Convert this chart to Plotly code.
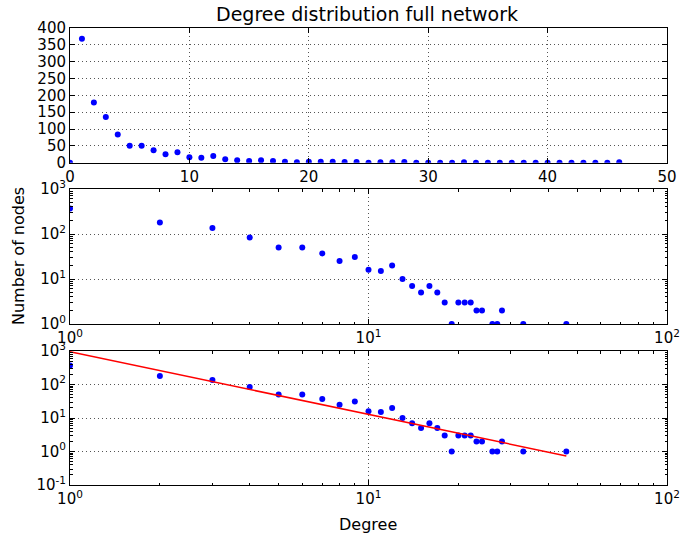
import plotly.graph_objects as go

degrees = list(range(0, 47))
counts = [0, 368, 179, 136, 84, 50, 50, 37, 25, 31,
          16, 15, 20, 10, 7, 5, 7, 5, 3, 1,
          3, 3, 3, 2, 2, 0, 1, 1, 2, 0,
          0, 0, 0, 1, 0, 0, 0, 0, 0, 0,
          0, 0, 0, 0, 0, 0, 1]

# power-law fit parameters: y = fit_a * x ** fit_b
fit_a = 950.0
fit_b = -1.87
fit_x = [1, 46]
fit_y = [fit_a * x ** fit_b for x in fit_x]

lin_xticks = [0, 10, 20, 30, 40, 50]
lin_yticks = [0, 50, 100, 150, 200, 250, 300, 350, 400]
log_xticks = [1, 10, 100]
log_xtext = ["10<sup>0</sup>", "10<sup>1</sup>", "10<sup>2</sup>"]
mid_yticks = [1, 10, 100, 1000]
mid_ytext = ["10<sup>0</sup>", "10<sup>1</sup>", "10<sup>2</sup>", "10<sup>3</sup>"]
bot_yticks = [0.1, 1, 10, 100, 1000]
bot_ytext = ["10<sup>-1</sup>", "10<sup>0</sup>", "10<sup>1</sup>", "10<sup>2</sup>", "10<sup>3</sup>"]

FONT = "DejaVu Sans"
BLUE = "#0000ff"

minor_x = [m * 10 ** e for e in range(0, 2) for m in range(2, 10)]
minor_y_mid = [m * 10 ** e for e in range(0, 3) for m in range(2, 10)]
minor_y_bot = [m * 10 ** e for e in range(-1, 3) for m in range(2, 10)]

fig = go.Figure()

mk = dict(color=BLUE, size=6, line=dict(width=0))
fig.add_trace(go.Scatter(x=degrees, y=counts, mode="markers", marker=mk,
                         xaxis="x", yaxis="y", showlegend=False))
fig.add_trace(go.Scatter(x=degrees, y=counts, mode="markers", marker=mk,
                         xaxis="x2", yaxis="y2", showlegend=False))
fig.add_trace(go.Scatter(x=degrees, y=counts, mode="markers", marker=mk,
                         xaxis="x3", yaxis="y3", showlegend=False))
fig.add_trace(go.Scatter(x=fit_x, y=fit_y, mode="lines",
                         line=dict(color="#ff0000", width=1.5),
                         xaxis="x3", yaxis="y3", showlegend=False))

common = dict(showline=True, linecolor="black", linewidth=1, mirror="ticks",
              ticks="inside", ticklen=5, tickcolor="black", tickwidth=1,
              showgrid=True, gridcolor="#555555", griddash="1px,3px", gridwidth=1,
              zeroline=False, automargin=False,
              tickfont=dict(family=FONT, size=15, color="black"))

def minor(vals):
    return dict(ticks="inside", ticklen=2.5, tickcolor="black", tickwidth=1,
                tickmode="array", tickvals=vals, showgrid=False)

l, r, t, b = 70, 14, 28, 51
H = 536
ph = H - t - b
def frac(py):
    return (H - b - py) / ph

fig.update_layout(
    width=681, height=536,
    margin=dict(l=l, r=r, t=t, b=b),
    paper_bgcolor="white", plot_bgcolor="white",
    font=dict(family=FONT, size=15, color="black"),
    title=dict(text="Degree distribution full network", x=(367 - l) / (681 - l - r), xref="paper",
               y=1 - 14 / 536, yref="container", xanchor="center", yanchor="middle",
               font=dict(family=FONT, size=19, color="black")),
    xaxis=dict(domain=[0, 1], anchor="y", range=[0, 50], tickmode="array",
               tickvals=lin_xticks, **common),
    yaxis=dict(domain=[frac(162.7), 1], anchor="x", range=[0, 400], tickmode="array",
               tickvals=lin_yticks, **common),
    xaxis2=dict(domain=[0, 1], anchor="y2", type="log", range=[0, 2], tickmode="array",
                tickvals=log_xticks, ticktext=log_xtext, minor=minor(minor_x), **common),
    yaxis2=dict(domain=[frac(324), frac(189)], anchor="x2", type="log", range=[0, 3],
                tickmode="array", tickvals=mid_yticks, ticktext=mid_ytext,
                minor=minor(minor_y_mid), **common),
    xaxis3=dict(domain=[0, 1], anchor="y3", type="log", range=[0, 2], tickmode="array",
                tickvals=log_xticks, ticktext=log_xtext, minor=minor(minor_x), **common),
    yaxis3=dict(domain=[0, frac(351)], anchor="x3", type="log", range=[-1, 3],
                tickmode="array", tickvals=bot_yticks, ticktext=bot_ytext,
                minor=minor(minor_y_bot), **common),
    annotations=[
        dict(text="Number of nodes", xref="paper", yref="paper",
             x=(18 - l) / (681 - l - r), y=frac(256), textangle=-90,
             showarrow=False, xanchor="center", yanchor="middle",
             font=dict(family=FONT, size=16, color="black")),
        dict(text="Degree", xref="paper", yref="paper",
             x=(368 - l) / (681 - l - r), y=frac(524),
             showarrow=False, xanchor="center", yanchor="middle",
             font=dict(family=FONT, size=16, color="black")),
    ],
)

fig.write_html("out.html")
